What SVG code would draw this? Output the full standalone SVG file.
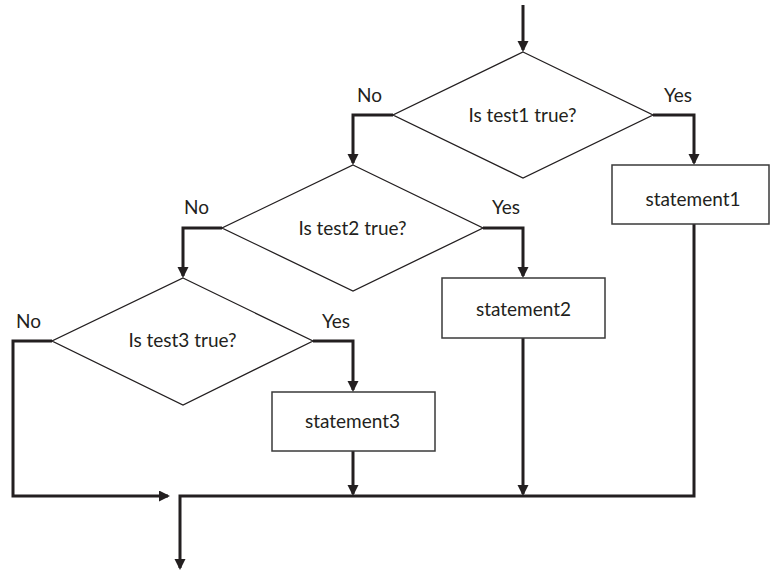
<svg xmlns="http://www.w3.org/2000/svg" width="771" height="571" viewBox="0 0 771 571">
<style>
.dia{fill:#fff;stroke:#231f20;stroke-width:1.3}
.box{fill:#fff;stroke:#3a3a3a;stroke-width:1.5}
.con{fill:none;stroke:#231f20;stroke-width:3;stroke-linejoin:miter}
text{font-family:Lato,"Open Sans","Liberation Sans",sans-serif;font-size:19px;fill:#231f20}
.c{text-anchor:middle}
</style>
<defs>
<marker id="ah" markerUnits="userSpaceOnUse" markerWidth="12" markerHeight="12" viewBox="0 0 12 12" refX="9" refY="5.5" orient="auto">
<path d="M0 0 L11 5.5 L0 11 z" fill="#231f20"/>
</marker>
</defs>
<rect width="771" height="571" fill="#fff"/>
<g id="connectors">
<path class="con" d="M523 5 V50" marker-end="url(#ah)"/>
<path class="con" d="M393 115 H353 V163" marker-end="url(#ah)"/>
<path class="con" d="M653 115 H694 V163" marker-end="url(#ah)"/>
<path class="con" d="M222 228 H183 V276" marker-end="url(#ah)"/>
<path class="con" d="M483 228 H523 V276" marker-end="url(#ah)"/>
<path class="con" d="M52 341 H13 V496 H168" marker-end="url(#ah)"/>
<path class="con" d="M313 341 H353 V390" marker-end="url(#ah)"/>
<path class="con" d="M694 224 V496 H180 V568" marker-end="url(#ah)"/>
<path class="con" d="M523 338 V494" marker-end="url(#ah)"/>
<path class="con" d="M353 451 V494" marker-end="url(#ah)"/>
</g>
<g id="test1">
<polygon class="dia" points="523,52 653,115 523,178 393,115"/>
<text class="c" x="522.5" y="122">Is test1 true?</text>
<text x="357" y="102">No</text>
<text x="664" y="102">Yes</text>
</g>
<g id="test2">
<polygon class="dia" points="353,165 483,228 353,291 222,228"/>
<text class="c" x="352.5" y="235">Is test2 true?</text>
<text x="184" y="214">No</text>
<text x="492" y="214">Yes</text>
</g>
<g id="test3">
<polygon class="dia" points="183,278 313,341 183,405 52,341"/>
<text class="c" x="182.5" y="347">Is test3 true?</text>
<text x="16" y="328">No</text>
<text x="322" y="328">Yes</text>
</g>
<g id="statement1">
<rect class="box" x="612" y="165" width="157" height="59"/>
<text class="c" x="693" y="206">statement1</text>
</g>
<g id="statement2">
<rect class="box" x="442" y="278" width="163" height="60"/>
<text class="c" x="523.5" y="316">statement2</text>
</g>
<g id="statement3">
<rect class="box" x="272" y="392" width="163" height="59"/>
<text class="c" x="352.5" y="428">statement3</text>
</g>
</svg>
